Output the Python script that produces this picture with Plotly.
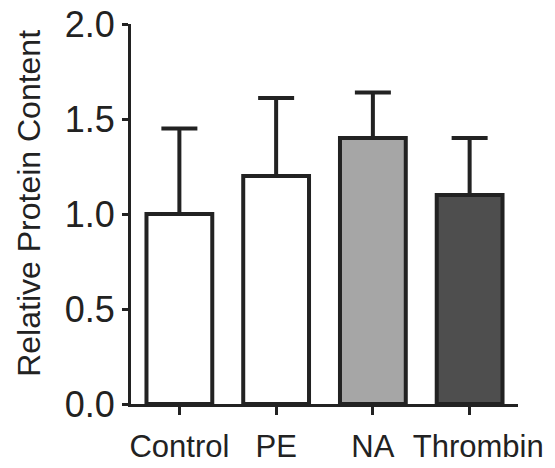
import plotly.graph_objects as go

categories = ["Control", "PE", "NA", "Thrombin"]
tick_labels = ["Control", "PE", "NA", "\u00a0\u00a0Thrombin"]
values = [1.0, 1.2, 1.40, 1.10]
errors_plus = [0.45, 0.41, 0.24, 0.30]
errors_minus = [0, 0, 0, 0]
fill_colors = ["#ffffff", "#ffffff", "#a6a6a6", "#4e4e4e"]
y_ticks = [0.0, 0.5, 1.0, 1.5, 2.0]
y_tick_labels = ["0.0", "0.5", "1.0", "1.5", "2.0"]
y_title = "Relative Protein Content"

ink = "#222222"
font_family = "Liberation Sans, Arial, sans-serif"

fig = go.Figure()
fig.add_trace(go.Bar(
    x=categories,
    y=values,
    width=0.68,
    marker=dict(color=fill_colors, line=dict(color=ink, width=4)),
    error_y=dict(type="data", array=errors_plus, arrayminus=errors_minus,
                 symmetric=False, thickness=4, width=18, color=ink),
))

fig.update_layout(
    width=555, height=468,
    margin=dict(l=131, r=37, t=24, b=64),
    paper_bgcolor="#ffffff", plot_bgcolor="#ffffff",
    showlegend=False,
    font=dict(family=font_family, size=31, color=ink),
)
fig.update_xaxes(
    type="category",
    range=[-0.5, 3.5],
    tickvals=categories, ticktext=tick_labels,
    tickangle=0, automargin=False,
    showline=True, linecolor=ink, linewidth=3,
    ticks="outside", ticklen=8, tickwidth=3, tickcolor=ink,
    showgrid=False, zeroline=False,
    tickfont=dict(size=31),
    ticklabelstandoff=5,
)
fig.update_yaxes(
    range=[0, 2.0],
    tickvals=y_ticks, ticktext=y_tick_labels,
    automargin=False,
    showline=True, linecolor=ink, linewidth=3,
    ticks="outside", ticklen=6, tickwidth=3, tickcolor=ink,
    showgrid=False, zeroline=False,
    tickfont=dict(size=36),
)
fig.add_annotation(
    text=y_title, textangle=-90,
    xref="paper", yref="paper", x=-0.264, y=0.529,
    xanchor="center", yanchor="middle", showarrow=False,
    font=dict(size=32, color=ink, family=font_family),
)

fig.write_html("out.html")
